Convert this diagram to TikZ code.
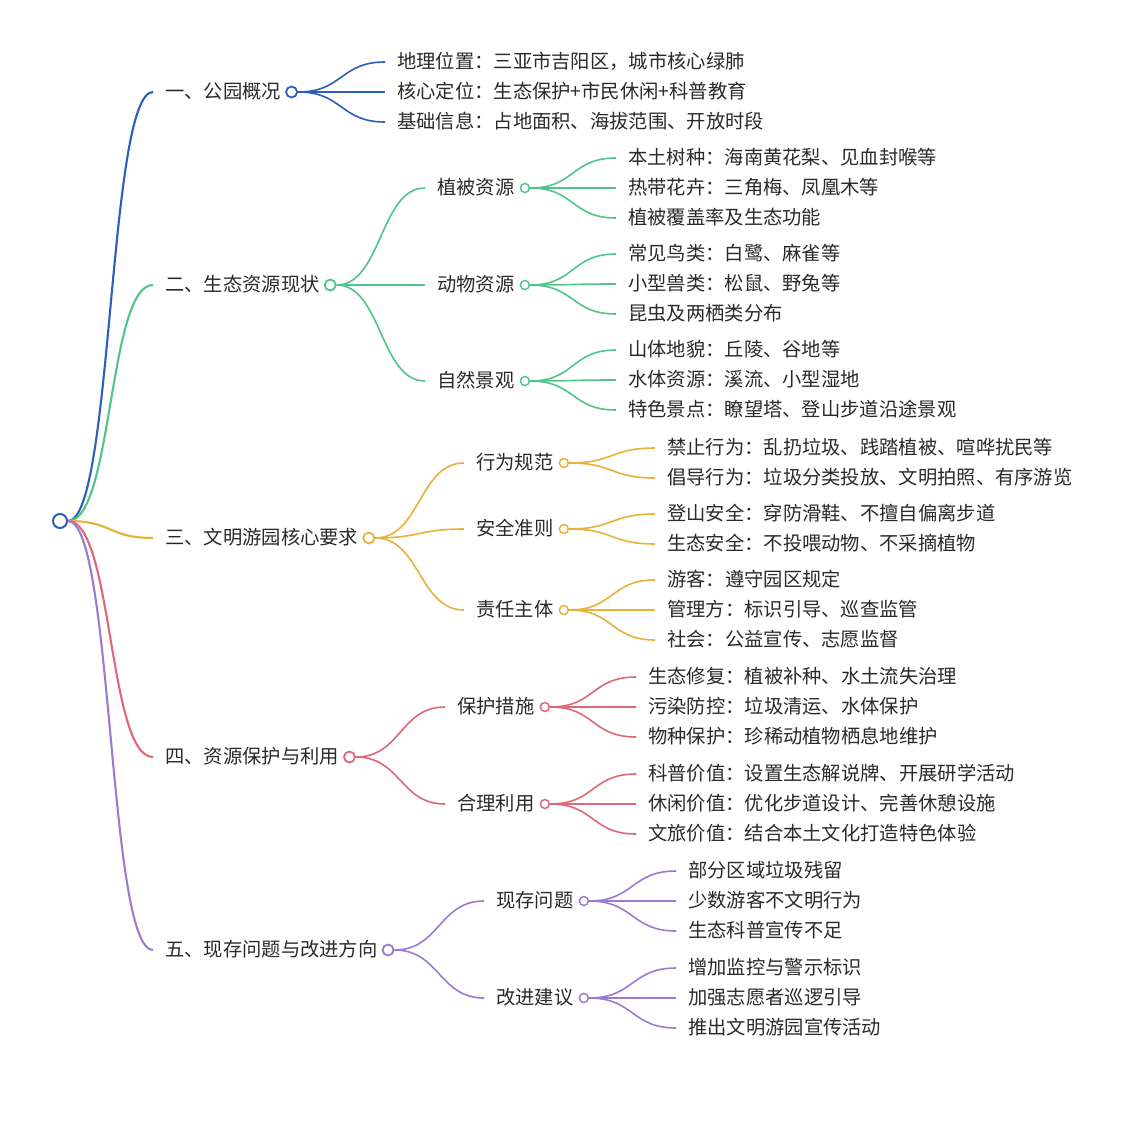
\documentclass[tikz,border=0pt]{standalone}
\usepackage{xcolor}
\usepackage{fontspec}
\setmainfont{Noto Sans CJK SC}
\usepackage{tikz}
\usetikzlibrary{positioning}

\definecolor{cBlue}{HTML}{2D5FB9}
\definecolor{cGreen}{HTML}{52C489}
\definecolor{cOrange}{HTML}{E8B13A}
\definecolor{cRed}{HTML}{DE6878}
\definecolor{cPurple}{HTML}{9B7BCF}
\definecolor{txtgray}{HTML}{2A2A2A}

\begin{document}
\begin{tikzpicture}[x=1pt, y=1pt, font=\fontsize{19.3}{22}\selectfont, text=txtgray,
        txt/.style={anchor=west, inner xsep=2pt, inner ysep=0pt, text height=16pt, text depth=3pt},
        dot/.style={draw=#1, circle, fill=white, inner sep=0pt, minimum size=9pt, line width=1.5pt},
        bigdot/.style={dot=#1, minimum size=11pt, line width=1.8pt},
        rootdot/.style={dot=#1, minimum size=14pt, line width=2pt},
        link/.style={line width=1.6pt},
        mainlink/.style={link, line width=2.1pt},
        curve/.style={to path={.. controls +(45,0) and +(-45,0) .. ([xshift=-10pt]\tikztotarget)}}]

        \fill[white] (0,0) rectangle (1140,-1140);
        \useasboundingbox (0,0) rectangle (1140,-1140);

        % 根节点
        \node[rootdot=cBlue] (root) at (60,-521) {};

        % 一、公园概况
        \node[txt] (t1) at (163,-92) {一、公园概况};
        \node[bigdot=cBlue, right=2pt of t1] (c1) {};
        \node[txt] (l1a) at (395,-62) {地理位置：三亚市吉阳区，城市核心绿肺};
        \node[txt] (l1b) at (395,-92) {核心定位：生态保护+市民休闲+科普教育};
        \node[txt] (l1c) at (395,-122) {基础信息：占地面积、海拔范围、开放时段};

        % 二、生态资源现状
        \node[txt] (t2) at (163,-285) {二、生态资源现状};
        \node[bigdot=cGreen, right=2pt of t2] (c2) {};
        \node[txt] (t2a) at (435,-188) {植被资源};
        \node[txt] (t2b) at (435,-285) {动物资源};
        \node[txt] (t2c) at (435,-381) {自然景观};
        \node[dot=cGreen, right=3pt of t2a] (c2a) {};
        \node[dot=cGreen, right=3pt of t2b] (c2b) {};
        \node[dot=cGreen, right=3pt of t2c] (c2c) {};
        \node[txt] (l2a1) at (626,-158) {本土树种：海南黄花梨、见血封喉等};
        \node[txt] (l2a2) at (626,-188) {热带花卉：三角梅、凤凰木等};
        \node[txt] (l2a3) at (626,-218) {植被覆盖率及生态功能};
        \node[txt] (l2b1) at (626,-254) {常见鸟类：白鹭、麻雀等};
        \node[txt] (l2b2) at (626,-284) {小型兽类：松鼠、野兔等};
        \node[txt] (l2b3) at (626,-314) {昆虫及两栖类分布};
        \node[txt] (l2c1) at (626,-350) {山体地貌：丘陵、谷地等};
        \node[txt] (l2c2) at (626,-380) {水体资源：溪流、小型湿地};
        \node[txt] (l2c3) at (626,-410) {特色景点：瞭望塔、登山步道沿途景观};

        % 三、文明游园核心要求
        \node[txt] (t3) at (163,-538) {三、文明游园核心要求};
        \node[bigdot=cOrange, right=2pt of t3] (c3) {};
        \node[txt] (t3a) at (474,-463) {行为规范};
        \node[txt] (t3b) at (474,-529) {安全准则};
        \node[txt] (t3c) at (474,-610) {责任主体};
        \node[dot=cOrange, right=3pt of t3a] (c3a) {};
        \node[dot=cOrange, right=3pt of t3b] (c3b) {};
        \node[dot=cOrange, right=3pt of t3c] (c3c) {};
        \node[txt] (l3a1) at (665,-448) {禁止行为：乱扔垃圾、践踏植被、喧哗扰民等};
        \node[txt] (l3a2) at (665,-478) {倡导行为：垃圾分类投放、文明拍照、有序游览};
        \node[txt] (l3b1) at (665,-514) {登山安全：穿防滑鞋、不擅自偏离步道};
        \node[txt] (l3b2) at (665,-544) {生态安全：不投喂动物、不采摘植物};
        \node[txt] (l3c1) at (665,-580) {游客：遵守园区规定};
        \node[txt] (l3c2) at (665,-610) {管理方：标识引导、巡查监管};
        \node[txt] (l3c3) at (665,-640) {社会：公益宣传、志愿监督};

        % 四、资源保护与利用
        \node[txt] (t4) at (163,-757) {四、资源保护与利用};
        \node[bigdot=cRed, right=2pt of t4] (c4) {};
        \node[txt] (t4a) at (455,-707) {保护措施};
        \node[txt] (t4b) at (455,-804) {合理利用};
        \node[dot=cRed, right=3pt of t4a] (c4a) {};
        \node[dot=cRed, right=3pt of t4b] (c4b) {};
        \node[txt] (l4a1) at (646,-677) {生态修复：植被补种、水土流失治理};
        \node[txt] (l4a2) at (646,-707) {污染防控：垃圾清运、水体保护};
        \node[txt] (l4a3) at (646,-737) {物种保护：珍稀动植物栖息地维护};
        \node[txt] (l4b1) at (646,-774) {科普价值：设置生态解说牌、开展研学活动};
        \node[txt] (l4b2) at (646,-804) {休闲价值：优化步道设计、完善休憩设施};
        \node[txt] (l4b3) at (646,-834) {文旅价值：结合本土文化打造特色体验};

        % 五、现存问题与改进方向
        \node[txt] (t5) at (163,-950) {五、现存问题与改进方向};
        \node[bigdot=cPurple, right=2pt of t5] (c5) {};
        \node[txt] (t5a) at (494,-901) {现存问题};
        \node[txt] (t5b) at (494,-998) {改进建议};
        \node[dot=cPurple, right=3pt of t5a] (c5a) {};
        \node[dot=cPurple, right=3pt of t5b] (c5b) {};
        \node[txt] (l5a1) at (686,-871) {部分区域垃圾残留};
        \node[txt] (l5a2) at (686,-901) {少数游客不文明行为};
        \node[txt] (l5a3) at (686,-931) {生态科普宣传不足};
        \node[txt] (l5b1) at (686,-968) {增加监控与警示标识};
        \node[txt] (l5b2) at (686,-998) {加强志愿者巡逻引导};
        \node[txt] (l5b3) at (686,-1028) {推出文明游园宣传活动};

        % 根节点连线
        \draw[mainlink, cBlue] (root.east) to[curve] (t1.west);
        \draw[mainlink, cGreen] (root.east) to[curve] (t2.west);
        \draw[mainlink, cOrange] (root.east) to[curve] (t3.west);
        \draw[mainlink, cRed] (root.east) to[curve] (t4.west);
        \draw[mainlink, cPurple] (root.east) to[curve] (t5.west);

        % 分支连线
        \foreach \n in {l1a,l1b,l1c} \draw[link, cBlue] (c1.east) to[curve] (\n.west);
        \foreach \n in {t2a,t2b,t2c} \draw[link, cGreen] (c2.east) to[curve] (\n.west);
        \foreach \n in {l2a1,l2a2,l2a3} \draw[link, cGreen] (c2a.east) to[curve] (\n.west);
        \foreach \n in {l2b1,l2b2,l2b3} \draw[link, cGreen] (c2b.east) to[curve] (\n.west);
        \foreach \n in {l2c1,l2c2,l2c3} \draw[link, cGreen] (c2c.east) to[curve] (\n.west);
        \foreach \n in {t3a,t3b,t3c} \draw[link, cOrange] (c3.east) to[curve] (\n.west);
        \foreach \n in {l3a1,l3a2} \draw[link, cOrange] (c3a.east) to[curve] (\n.west);
        \foreach \n in {l3b1,l3b2} \draw[link, cOrange] (c3b.east) to[curve] (\n.west);
        \foreach \n in {l3c1,l3c2,l3c3} \draw[link, cOrange] (c3c.east) to[curve] (\n.west);
        \foreach \n in {t4a,t4b} \draw[link, cRed] (c4.east) to[curve] (\n.west);
        \foreach \n in {l4a1,l4a2,l4a3} \draw[link, cRed] (c4a.east) to[curve] (\n.west);
        \foreach \n in {l4b1,l4b2,l4b3} \draw[link, cRed] (c4b.east) to[curve] (\n.west);
        \foreach \n in {t5a,t5b} \draw[link, cPurple] (c5.east) to[curve] (\n.west);
        \foreach \n in {l5a1,l5a2,l5a3} \draw[link, cPurple] (c5a.east) to[curve] (\n.west);
        \foreach \n in {l5b1,l5b2,l5b3} \draw[link, cPurple] (c5b.east) to[curve] (\n.west);

    \end{tikzpicture}
\end{document}
